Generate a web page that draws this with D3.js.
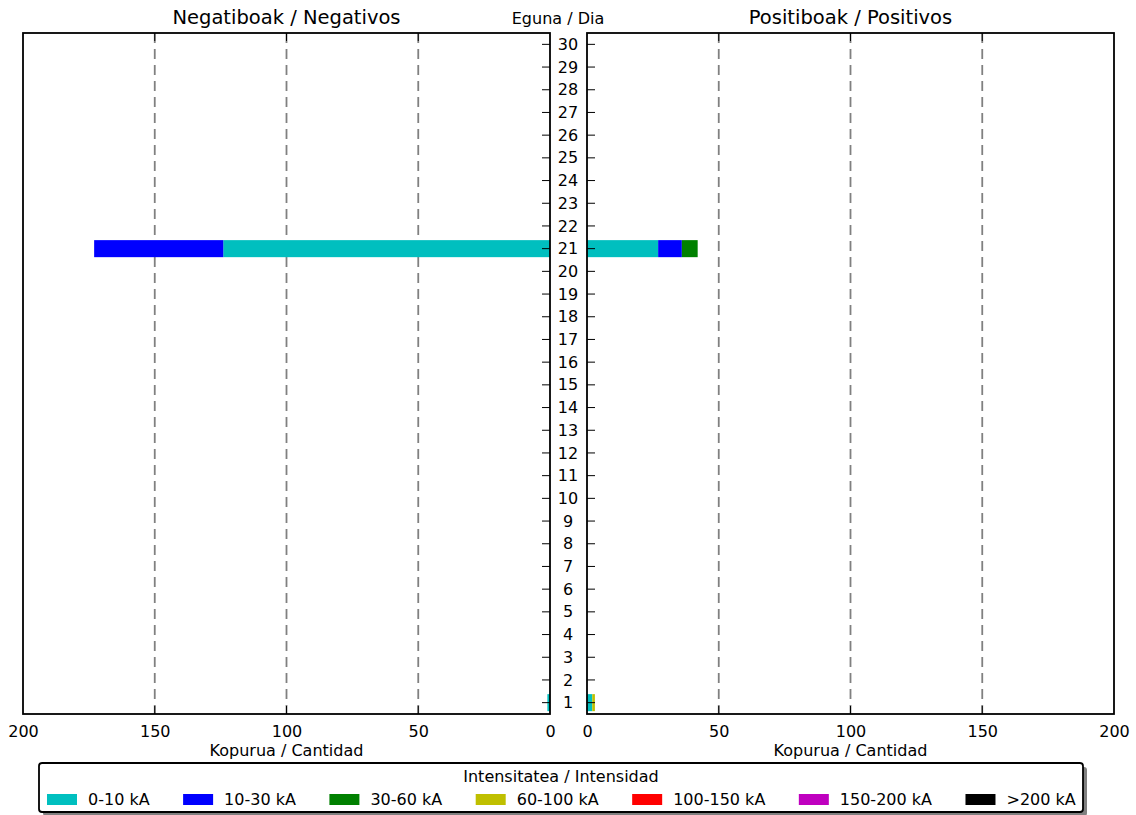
<!DOCTYPE html>
<html><head><meta charset="utf-8">
<script src="https://cdn.jsdelivr.net/npm/d3@7/dist/d3.min.js"></script>
<style>body{margin:0;background:#fff}svg{display:block;font-family:"DejaVu Sans",sans-serif}</style>
</head><body>
<script>
const days = [1,2,3,4,5,6,7,8,9,10,11,12,13,14,15,16,17,18,19,20,21,22,23,24,25,26,27,28,29,30];
const classes = ["0-10 kA","10-30 kA","30-60 kA","60-100 kA","100-150 kA","150-200 kA",">200 kA"];
const colors = ["#00bfbf","#0000ff","#008000","#bfbf00","#ff0000","#bf00bf","#000000"];
// negative counts per class, per day 1..30
const neg0_10   = [1,0,0,0,0,0,0,0,0,0,0,0,0,0,0,0,0,0,0,0,124,0,0,0,0,0,0,0,0,0];
const neg10_30  = [0,0,0,0,0,0,0,0,0,0,0,0,0,0,0,0,0,0,0,0,49,0,0,0,0,0,0,0,0,0];
const neg30_60  = [0,0,0,0,0,0,0,0,0,0,0,0,0,0,0,0,0,0,0,0,0,0,0,0,0,0,0,0,0,0];
const neg60_100 = [0,0,0,0,0,0,0,0,0,0,0,0,0,0,0,0,0,0,0,0,0,0,0,0,0,0,0,0,0,0];
const neg100_150= [0,0,0,0,0,0,0,0,0,0,0,0,0,0,0,0,0,0,0,0,0,0,0,0,0,0,0,0,0,0];
const neg150_200= [0,0,0,0,0,0,0,0,0,0,0,0,0,0,0,0,0,0,0,0,0,0,0,0,0,0,0,0,0,0];
const neg200    = [0,0,0,0,0,0,0,0,0,0,0,0,0,0,0,0,0,0,0,0,0,0,0,0,0,0,0,0,0,0];
// positive counts
const pos0_10   = [2,0,0,0,0,0,0,0,0,0,0,0,0,0,0,0,0,0,0,0,27,0,0,0,0,0,0,0,0,0];
const pos10_30  = [0,0,0,0,0,0,0,0,0,0,0,0,0,0,0,0,0,0,0,0,9,0,0,0,0,0,0,0,0,0];
const pos30_60  = [0,0,0,0,0,0,0,0,0,0,0,0,0,0,0,0,0,0,0,0,6,0,0,0,0,0,0,0,0,0];
const pos60_100 = [1,0,0,0,0,0,0,0,0,0,0,0,0,0,0,0,0,0,0,0,0,0,0,0,0,0,0,0,0,0];
const pos100_150= [0,0,0,0,0,0,0,0,0,0,0,0,0,0,0,0,0,0,0,0,0,0,0,0,0,0,0,0,0,0];
const pos150_200= [0,0,0,0,0,0,0,0,0,0,0,0,0,0,0,0,0,0,0,0,0,0,0,0,0,0,0,0,0,0];
const pos200    = [0,0,0,0,0,0,0,0,0,0,0,0,0,0,0,0,0,0,0,0,0,0,0,0,0,0,0,0,0,0];
const xTicks = [0,50,100,150,200];

const negSeries = [neg0_10,neg10_30,neg30_60,neg60_100,neg100_150,neg150_200,neg200];
const posSeries = [pos0_10,pos10_30,pos30_60,pos60_100,pos100_150,pos150_200,pos200];

const W=1136,H=815;
const svg=d3.select("body").append("svg").attr("width",W).attr("height",H);
const pTop=33,pBot=714;
const y=d3.scaleLinear().domain([0.5,30.5]).range([pBot,pTop]);
const xNeg=d3.scaleLinear().domain([200,0]).range([23,550]);
const xPos=d3.scaleLinear().domain([0,200]).range([587,1114]);
const barH=0.75;
const fs=16;

function stackRows(series){
  const rows=days.map((d,i)=>{const o={day:d};classes.forEach((c,k)=>o[c]=series[k][i]);return o;});
  return d3.stack().keys(classes)(rows);
}

function panel(x, series, side){
  const g=svg.append("g");
  g.selectAll("line.grid").data([50,100,150]).join("line")
    .attr("x1",d=>x(d)).attr("x2",d=>x(d)).attr("y1",pTop).attr("y2",pBot)
    .attr("stroke","#808080").attr("stroke-width",1.8).attr("stroke-dasharray","10,6");
  const st=stackRows(series);
  st.forEach((layer,k)=>{
    g.append("g").selectAll("rect").data(layer.filter(d=>d[1]>d[0])).join("rect")
      .attr("x",d=>Math.min(x(d[0]),x(d[1])))
      .attr("width",d=>Math.abs(x(d[1])-x(d[0])))
      .attr("y",d=>y(d.data.day+barH/2))
      .attr("height",y(0)-y(barH))
      .attr("fill",colors[k]);
  });
  const axB = d3.axisBottom(x).tickValues(xTicks).tickSize(0).tickPadding(12).tickFormat(d3.format("d"));
  const gb=g.append("g").attr("transform",`translate(0,${pBot})`).call(axB);
  gb.select(".domain").remove();
  gb.selectAll("text").attr("font-size",fs).attr("font-family","DejaVu Sans").attr("fill","#000");
  g.selectAll("line.tb").data([50,100,150]).join("line").attr("x1",d=>x(d)).attr("x2",d=>x(d)).attr("y1",pBot).attr("y2",pBot-8).attr("stroke","#000").attr("stroke-width",1);
  g.selectAll("line.tt").data([50,100,150]).join("line").attr("x1",d=>x(d)).attr("x2",d=>x(d)).attr("y1",pTop).attr("y2",pTop+8).attr("stroke","#000").attr("stroke-width",1);
  const inner = x(0);
  const dir = side==="neg"?-1:1;
  g.selectAll("line.yt").data(days).join("line")
    .attr("x1",inner).attr("x2",inner+dir*8).attr("y1",d=>y(d)).attr("y2",d=>y(d))
    .attr("stroke","#000").attr("stroke-width",1);
  const [r0,r1]=x.range();
  g.append("rect").attr("x",Math.min(r0,r1)).attr("y",pTop).attr("width",Math.abs(r1-r0)).attr("height",pBot-pTop)
    .attr("fill","none").attr("stroke","#000").attr("stroke-width",1.8);
  const cx=(r0+r1)/2;
  g.append("text").attr("x",cx).attr("y",24).attr("text-anchor","middle").attr("font-size",19.5).text(side==="neg"?"Negatiboak / Negativos":"Positiboak / Positivos");
  g.append("text").attr("x",cx).attr("y",756).attr("text-anchor","middle").attr("font-size",fs).text("Kopurua / Cantidad");
}
panel(xNeg,negSeries,"neg");
panel(xPos,posSeries,"pos");

svg.append("g").selectAll("text").data(days).join("text")
  .attr("x",568).attr("y",d=>y(d)).attr("dy","0.35em").attr("text-anchor","middle").attr("font-size",fs).text(d=>d);
svg.append("text").attr("x",558).attr("y",24).attr("text-anchor","middle").attr("font-size",fs).text("Eguna / Dia");

const lg=svg.append("g");
const lx=39,ly=763,lw=1044,lh=49;
lg.append("rect").attr("x",lx+4).attr("y",ly+4).attr("width",lw).attr("height",lh).attr("rx",3).attr("fill","#808080");
lg.append("rect").attr("x",lx).attr("y",ly).attr("width",lw).attr("height",lh).attr("rx",3).attr("fill","#fff").attr("stroke","#000").attr("stroke-width",1.8);
lg.append("text").attr("x",lx+lw/2).attr("y",ly+19).attr("text-anchor","middle").attr("font-size",fs).text("Intensitatea / Intensidad");
let lcx=47;
classes.forEach((c,k)=>{
  lg.append("rect").attr("x",lcx).attr("y",ly+31).attr("width",30).attr("height",11).attr("fill",colors[k]);
  const t=lg.append("text").attr("x",lcx+41).attr("y",ly+42).attr("font-size",fs).text(c);
  const w=t.node().getComputedTextLength();
  lcx = lcx+41+w+33.5;
});
</script>
</body></html>
